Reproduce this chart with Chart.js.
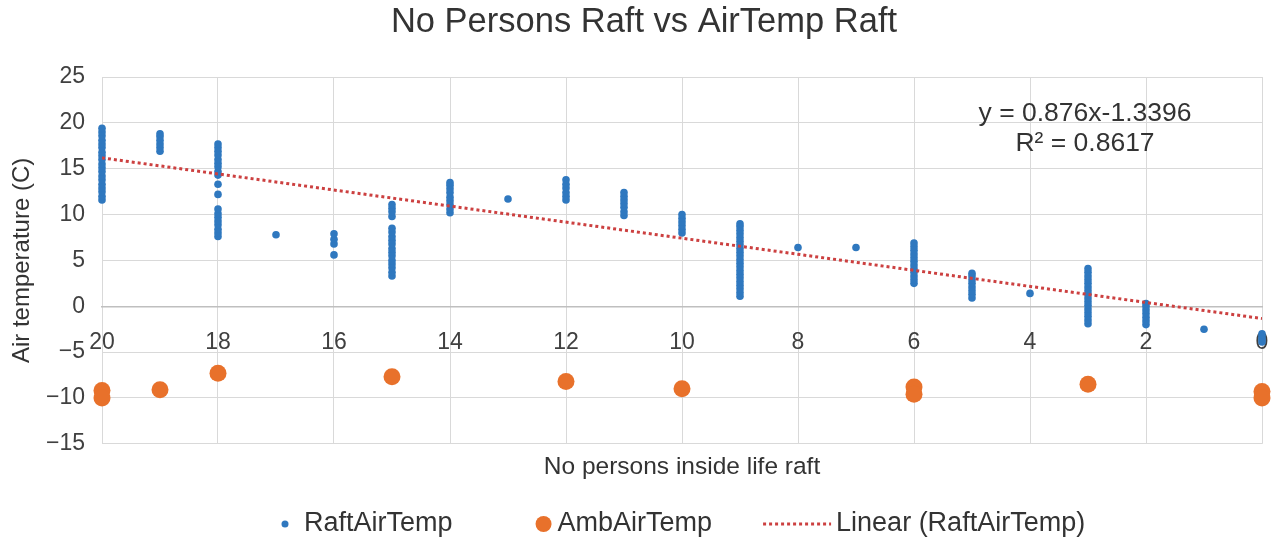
<!DOCTYPE html>
<html><head><meta charset="utf-8">
<script src="https://cdn.jsdelivr.net/npm/chart.js@4.4.1/dist/chart.umd.min.js"></script>
<style>html,body{margin:0;padding:0;background:#fff}</style>
</head><body>
<canvas id="c" width="1278" height="544"></canvas>
<script>
// ---- data ----
const chartTitle = 'No Persons Raft vs AirTemp Raft';
const xAxisTitle = 'No persons inside life raft';
const yAxisTitle = 'Air temperature (C)';
const legendLabels = ['RaftAirTemp', 'AmbAirTemp', 'Linear (RaftAirTemp)'];
const xTickRange = [0, 20, 2];      // min, max, step
const yTickRange = [-15, 25, 5];
const raftPersons = [20, 19, 18, 17, 16, 15, 14, 13, 12, 11, 10, 9, 8, 7, 6, 5, 4, 3, 2, 1, 0];
const raftTemps = [
  [11.6, 12.0, 12.5, 12.9, 13.3, 13.8, 14.2, 14.7, 15.1, 15.5, 16.0, 16.4, 16.8, 17.3, 17.7, 18.1, 18.6, 19.0, 19.4],
  [16.9, 17.3, 17.7, 18.1, 18.5, 18.8],
  [7.6, 8.0, 8.4, 8.9, 9.3, 9.7, 10.1, 10.6, 12.2, 13.3, 14.3, 14.7, 15.2, 15.6, 16.0, 16.5, 16.9, 17.3, 17.7],
  [7.8],
  [5.6, 6.8, 7.3, 7.9],
  [3.3, 3.7, 4.2, 4.6, 5.0, 5.5, 5.9, 6.3, 6.8, 7.2, 7.6, 8.1, 8.5, 9.8, 10.3, 10.7, 11.1],
  [10.2, 10.6, 11.1, 11.5, 11.9, 12.4, 12.8, 13.2, 13.5],
  [11.7],
  [11.6, 12.0, 12.4, 12.9, 13.3, 13.8],
  [9.9, 10.3, 10.8, 11.2, 11.6, 12.0, 12.4],
  [8.0, 8.4, 8.8, 9.2, 9.6, 10.0],
  [1.1, 1.5, 1.9, 2.3, 2.7, 3.1, 3.5, 3.9, 4.3, 4.7, 5.1, 5.5, 5.9, 6.3, 6.7, 7.1, 7.5, 7.9, 8.3, 8.7, 9.0],
  [6.4],
  [6.4],
  [2.5, 2.9, 3.3, 3.7, 4.1, 4.5, 4.9, 5.3, 5.7, 6.1, 6.5, 6.9],
  [0.9, 1.3, 1.7, 2.1, 2.5, 2.9, 3.3, 3.6],
  [1.4],
  [-1.9, -1.5, -1.1, -0.7, -0.3, 0.1, 0.5, 0.9, 1.3, 1.7, 2.1, 2.5, 2.9, 3.3, 3.7, 4.1],
  [-2.0, -1.6, -1.2, -0.8, -0.4, 0.0, 0.3],
  [-2.5],
  [-3.0, -3.3, -3.6, -3.9]
];
const ambPersons = [20, 19, 18, 15, 12, 10, 6, 3, 0];
const ambTemps = [[-9.2, -10.0], [-9.1], [-7.3], [-7.7], [-8.2], [-9.0], [-8.8, -9.6], [-8.5], [-9.3, -10.0]];
const trendSlope = 0.876;
const trendIntercept = -1.3396;
const trendX = [20, 0];
const equationLines = ['y = 0.876x-1.3396', 'R\u00B2 = 0.8617'];

// ---- build datasets ----
const toPoints = (xs, ys) => xs.flatMap((x, i) => ys[i].map(y => ({x, y})));
const raftData = toPoints(raftPersons, raftTemps);
const ambData = toPoints(ambPersons, ambTemps);
const trendData = trendX.map(x => ({x, y: trendSlope * x + trendIntercept}));

const FF = '"Liberation Sans", Arial, Helvetica, sans-serif';
const TXT = '#404040';
const BLUE = '#2f78bf';
const ORANGE = '#e8712b';
const RED = '#cc4040';

const overlay = {
  id: 'overlay',
  afterDraw(chart) {
    const ctx = chart.ctx;
    const ca = chart.chartArea;
    ctx.save();
    // equation
    ctx.fillStyle = '#333';
    ctx.font = '26.5px ' + FF;
    ctx.textAlign = 'center';
    ctx.textBaseline = 'middle';
    ctx.fillText(equationLines[0], ca.right - 177, ca.top + 37);
    ctx.fillText(equationLines[1], ca.right - 177, ca.top + 67);
    // legend
    ctx.font = '27px ' + FF;
    ctx.textAlign = 'left';
    const y = 524;
    let x = 285;
    ctx.fillStyle = BLUE;
    ctx.beginPath(); ctx.arc(x, y, 3.5, 0, Math.PI * 2); ctx.fill();
    x += 19;
    ctx.fillStyle = '#333';
    ctx.fillText(legendLabels[0], x, y);
    x += ctx.measureText(legendLabels[0]).width + 91;
    ctx.fillStyle = ORANGE;
    ctx.beginPath(); ctx.arc(x, y, 8, 0, Math.PI * 2); ctx.fill();
    x += 14;
    ctx.fillStyle = '#333';
    ctx.fillText(legendLabels[1], x, y);
    x += ctx.measureText(legendLabels[1]).width + 51;
    ctx.strokeStyle = RED;
    ctx.lineWidth = 3;
    ctx.setLineDash([3, 3]);
    ctx.beginPath(); ctx.moveTo(x, y); ctx.lineTo(x + 68, y); ctx.stroke();
    ctx.setLineDash([]);
    x += 73;
    ctx.fillStyle = '#333';
    ctx.fillText(legendLabels[2], x, y);
    ctx.restore();
  }
};

new Chart(document.getElementById('c'), {
  type: 'scatter',
  data: {
    datasets: [
      {label: legendLabels[2], data: trendData, showLine: true, borderColor: RED, borderWidth: 3,
       borderDash: [3, 3], pointRadius: 0, fill: false, order: 0},
      {label: legendLabels[0], data: raftData, backgroundColor: BLUE, borderWidth: 0,
       pointRadius: 3.8, order: 1, clip: false},
      {label: legendLabels[1], data: ambData, backgroundColor: ORANGE, borderWidth: 0,
       pointRadius: 8.5, order: 2, clip: false}
    ]
  },
  options: {
    responsive: false,
    animation: false,
    devicePixelRatio: 1,
    layout: {padding: {left: 26, right: 16, top: 0, bottom: 54}},
    plugins: {
      legend: {display: false},
      tooltip: {enabled: false},
      title: {display: true, text: chartTitle, color: '#333',
              font: {family: FF, size: 34.5, weight: 'normal'}, padding: {top: 2, bottom: 33.6}}
    },
    scales: {
      x: {
        type: 'linear', position: {y: 0}, reverse: true,
        min: xTickRange[0], max: xTickRange[1],
        ticks: {stepSize: xTickRange[2], color: TXT, font: {family: FF, size: 23}, padding: 23, maxRotation: 0, autoSkip: false},
        grid: {color: '#d9d9d9', drawTicks: false},
        border: {color: '#bfbfbf', width: 1.5},
        afterFit: s => { s.paddingLeft = 0; s.paddingRight = 0; }
      },
      x2: {
        type: 'linear', position: 'bottom', reverse: true, axis: 'x',
        min: xTickRange[0], max: xTickRange[1],
        ticks: {display: false},
        grid: {display: false, drawTicks: false},
        border: {display: false},
        title: {display: true, text: xAxisTitle, color: '#333', font: {family: FF, size: 24.5}, padding: {top: 8.4, bottom: 8.4}},
        afterFit: s => { s.paddingLeft = 0; s.paddingRight = 0; }
      },
      y: {
        type: 'linear', position: 'left',
        min: yTickRange[0], max: yTickRange[1],
        ticks: {stepSize: yTickRange[2], color: TXT, font: {family: FF, size: 23}, padding: 17,
                callback: v => String(v).replace('-', '\u2212')},
        grid: {color: '#d9d9d9', drawTicks: false},
        border: {display: false},
        title: {display: true, text: yAxisTitle, color: '#333', font: {family: FF, size: 24}, padding: {top: -18, bottom: 0}},
        afterFit: s => { s.width = 76; }
      }
    }
  },
  plugins: [overlay]
});
</script>
</body></html>
